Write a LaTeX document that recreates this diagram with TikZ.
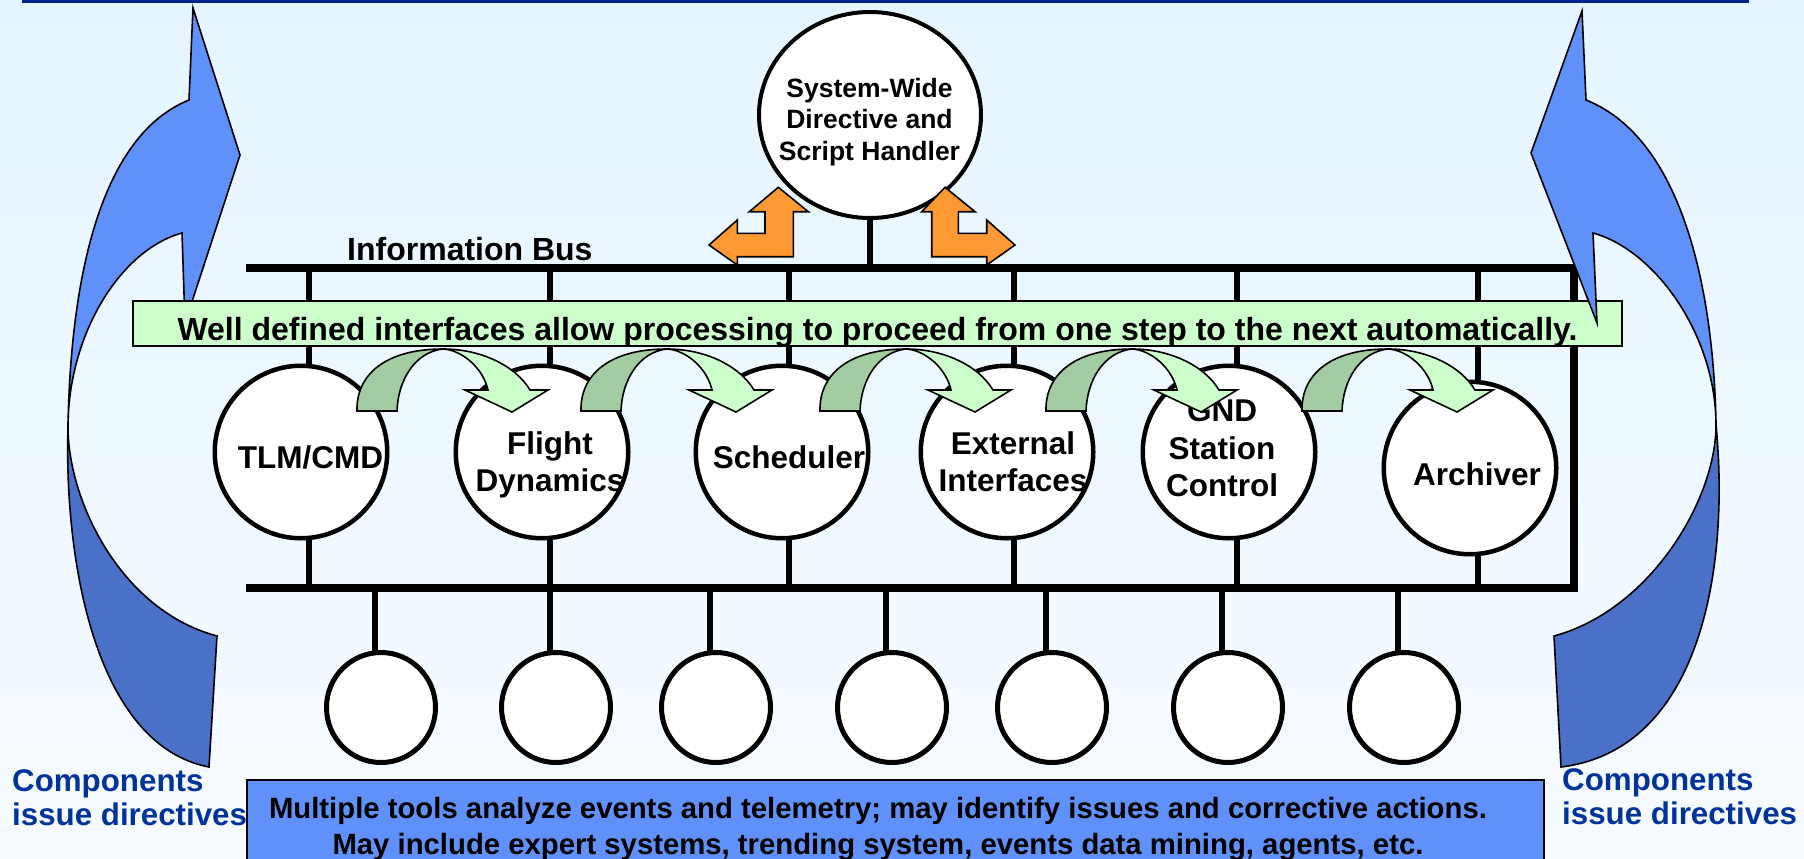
\documentclass[tikz,border=0pt]{standalone}
\usepackage{fontspec}
\setmainfont{Liberation Sans}
\usetikzlibrary{shapes.geometric}
\definecolor{bgtop}{RGB}{229,245,255}
\definecolor{bgbot}{RGB}{247,251,255}
\definecolor{navyline}{RGB}{0,35,140}
\definecolor{bluelight}{RGB}{96,144,250}
\definecolor{bluedark}{RGB}{74,112,200}
\definecolor{greenlight}{RGB}{204,255,204}
\definecolor{greendark}{RGB}{163,204,163}
\definecolor{orangefill}{RGB}{255,153,51}
\definecolor{textblue}{RGB}{0,51,153}
\tikzset{
  busline/.style={line width=7.5pt, line join=miter},
  vline/.style={line width=6.5pt},
  mainc/.style={ellipse, draw, fill=white, line width=4.5pt, minimum width=172.5pt, minimum height=172.5pt, inner sep=0pt},
  toolc/.style={ellipse, draw, fill=white, line width=5pt, minimum width=109pt, minimum height=110pt, inner sep=0pt},
  lbl/.style={font=\bfseries\fontsize{31.5}{37}\selectfont, inner sep=0pt, align=center},
  outl/.style={draw=black, line width=1.6pt, line join=miter},
}
\newcommand\greenarrow[1]{%
  \begin{scope}[xshift=#1pt]
    \path[outl, fill=greendark] (0,411) .. controls (-1,375) and (28,349) .. (86,349)
      .. controls (58,352) and (41,380) .. (40,411) -- cycle;
    \path[outl, fill=greenlight] (86,349) .. controls (123,349) and (158,365) .. (173,390)
      -- (191,390) -- (155,412) -- (108,390) -- (131,390)
      .. controls (126,368) and (105,350) .. (86,349) -- cycle;
  \end{scope}}
\begin{document}
\begin{tikzpicture}[x=1pt,y=-1pt]
\useasboundingbox (0,0) rectangle (1804,859);
\clip (0,0) rectangle (1804,859);
\shade[top color=bgtop, bottom color=bgbot] (0,0) rectangle (1804,859);
\fill[navyline] (22,0) rectangle (1749,3);

% left big curved arrow (behind banner)
\path[outl, fill=bluelight] (68,427) .. controls (70,310) and (90,140) .. (189,100)
  -- (193,8) -- (240,155) -- (185,323) -- (182,233)
  .. controls (120,250) and (68,335) .. (68,427) -- cycle;
\path[outl, fill=bluedark] (68,427) .. controls (64,560) and (95,745) .. (209,767)
  -- (217,636) .. controls (120,610) and (68,500) .. (68,427) -- cycle;

% information bus
\coordinate (busTL) at (246,268);
\coordinate (busTR) at (1574,268);
\coordinate (busBR) at (1574,588);
\coordinate (busBL) at (246,588);
\foreach \x in {309,550,789,1014,1237,1478}{
  \draw[vline] (\x,268) -- (\x,588);
}
\draw[busline] (busTL) -- (busTR) -- (busBR) -- (busBL);
\node[font=\bfseries\fontsize{32}{38}\selectfont, anchor=base west, inner sep=0pt] (buslbl) at (347,260) {Information Bus};

% system-wide handler
\node[ellipse, draw, fill=white, line width=4pt, minimum width=222pt, minimum height=206pt, inner sep=0pt] (swd) at (870,115) {};
\draw[vline] (swd.south) -- (swd.south |- busTL);
\node[font=\bfseries\fontsize{26.5}{31.5}\selectfont, align=center, anchor=north, inner sep=0pt] (swdlbl) at (869.5,78) {System-Wide\\Directive and\\Script Handler};
\path[outl, fill=orangefill] (778.3,187.3) -- (808.3,211.7) -- (793.3,211.7) -- (793.3,256.7) -- (737.3,256.7)
  -- (737.3,265) -- (709,245) -- (737.3,220) -- (737.3,233.3) -- (765,233.3) -- (765,211.7) -- (749.3,211.7) -- cycle;
\path[outl, fill=orangefill] (945,187.3) -- (975,211.7) -- (958.3,211.7) -- (958.3,233.3) -- (986.7,233.3)
  -- (986.7,220) -- (1015,245) -- (986.7,265) -- (986.7,256.7) -- (931.7,256.7) -- (931.7,211.7) -- (921.7,211.7) -- cycle;

% processing components
\node[mainc] (tlm) at (301,452) {};
\node[mainc] (fd) at (542,452) {};
\node[mainc] (sch) at (782,452) {};
\node[mainc] (ext) at (1007,452) {};
\node[mainc] (gnd) at (1229,452) {};
\node[mainc] (arch) at (1470,468) {};
\node[lbl, anchor=base] (tlmlbl) at (310.5,468) {TLM/CMD};
\node[lbl, anchor=north] (fdlbl) at (550,431) {Flight\\Dynamics};
\node[lbl, anchor=base] (schlbl) at (789,468) {Scheduler};
\node[lbl, anchor=north] (extlbl) at (1013,431) {External\\Interfaces};
\node[lbl, anchor=north, font=\bfseries\fontsize{31.5}{37.5}\selectfont] (gndlbl) at (1222,399.5) {GND\\Station\\Control};
\node[lbl, anchor=base] (archlbl) at (1477,485) {Archiver};

% banner
\node[draw=black, line width=1.5pt, fill=greenlight, minimum width=1489pt, inner sep=0pt,
  text height=39pt, text depth=6pt, anchor=base, font=\bfseries\fontsize{32}{38}\selectfont]
  (banner) at (877.5,340) {Well defined interfaces allow processing to proceed from one step to the next automatically.};

% green step arrows
\greenarrow{357}
\greenarrow{581}
\greenarrow{820}
\greenarrow{1046}
\greenarrow{1302}

% right big curved arrow (in front of banner)
\path[outl, fill=bluelight] (1716,425) .. controls (1714,300) and (1686,140) .. (1586,100)
  -- (1582,11) -- (1531,153) -- (1597,323) -- (1593,233)
  .. controls (1655,250) and (1716,335) .. (1716,425) -- cycle;
\path[outl, fill=bluedark] (1716,425) .. controls (1730,570) and (1700,750) .. (1561,767)
  -- (1554,636) .. controls (1650,610) and (1716,500) .. (1716,425) -- cycle;

% analysis tools
\foreach \i/\s in {1/375,2/550,3/710,4/886,5/1046,6/1222,7/1398}{
  \coordinate (tb\i) at (\s,588);
  \draw[vline] (tb\i) -- (\s,655);
  \node[toolc] (tool\i) at (\s+6,707.5) {};
}
\node[draw=black, line width=1.5pt, fill=bluelight, minimum width=1297pt, minimum height=100pt, inner sep=0pt, anchor=north west] (toolsbox) at (246,779) {};
\node[font=\bfseries\fontsize{29.3}{36}\selectfont, align=center, anchor=north, inner sep=0pt] (toolstext) at (878,797)
  {Multiple tools analyze events and telemetry; may identify issues and corrective actions.\\May include expert systems, trending system, events data mining, agents, etc.};

% side captions
\node[font=\bfseries\fontsize{31.3}{33.5}\selectfont, text=textblue, align=left, anchor=north west, inner sep=0pt] (compL) at (12,769.5) {Components\\issue directives};
\node[font=\bfseries\fontsize{31.3}{34}\selectfont, text=textblue, align=left, anchor=north west, inner sep=0pt] (compR) at (1562,768) {Components\\issue directives};
\end{tikzpicture}
\end{document}
